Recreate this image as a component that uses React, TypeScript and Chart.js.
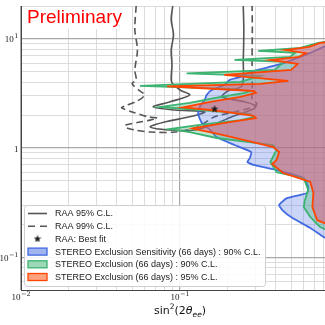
import React, { useEffect, useRef } from 'react';
import { Chart, registerables } from 'chart.js';

Chart.register(...registerables);

// ---- axis data ----
const xMin = 0.01;
const xMax = 1;
const yMin = 0.05;
const yMax = 20;
const xGridValues = [0.01, 0.02, 0.03, 0.04, 0.05, 0.06, 0.07, 0.08, 0.09, 0.1, 0.2, 0.3, 0.4, 0.5, 0.6, 0.7, 0.8, 0.9, 1];
const yGridValues = [0.05, 0.06, 0.07, 0.08, 0.09, 0.1, 0.2, 0.3, 0.4, 0.5, 0.6, 0.7, 0.8, 0.9, 1, 2, 3, 4, 5, 6, 7, 8, 9, 10, 20];
const majorValues = [0.01, 0.1, 1, 10];
const xTickValues = [0.01, 0.1, 1];
const xTickBases = ['10', '10', '10'];
const xTickExps = ['\u22122', '\u22121', '0'];
const yTickValues = [0.1, 1, 10];
const yTickBases = ['10', '1', '10'];
const yTickExps = ['\u22121', '', '1'];

const watermark = 'Preliminary';
const legendLabels = [
  'RAA 95% C.L.',
  'RAA 99% C.L.',
  'RAA: Best fit',
  'STEREO Exclusion Sensitivity (66 days) : 90% C.L.',
  'STEREO Exclusion (66 days) : 90% C.L.',
  'STEREO Exclusion (66 days) : 95% C.L.',
];

// ---- series data: [sin^2(2theta), dm^2] ----
const raaBestFit: [number, number][] = [[0.165, 2.3]];

const raa95: [number, number][] = [
  [0.09, 20], [0.088, 15], [0.091, 10.9], [0.088, 7.9], [0.089, 5.77], [0.088, 4.39], [0.089, 3.95],
  [0.1, 3.4], [0.115, 3.06], [0.086, 2.64], [0.068, 2.38], [0.093, 2.23], [0.143, 2.14], [0.115, 1.93],
  [0.08, 1.73], [0.065, 1.56], [0.086, 1.46], [0.124, 1.46], [0.165, 1.66], [0.22, 1.97], [0.29, 2.28],
  [0.3, 2.43], [0.257, 2.64], [0.184, 2.94], [0.2, 3.33], [0.245, 3.7], [0.25, 6.4], [0.252, 12.1], [0.25, 20],
];

const raa99: [number, number][] = [
  [0.053, 20], [0.052, 12.1], [0.054, 7.9], [0.052, 5.19], [0.053, 4.2], [0.05, 3.87], [0.056, 3.33],
  [0.06, 3.06], [0.054, 2.7], [0.045, 2.43], [0.043, 2.33], [0.05, 2.14], [0.063, 1.93], [0.072, 1.88],
  [0.065, 1.8], [0.056, 1.73], [0.046, 1.63], [0.045, 1.56], [0.052, 1.46], [0.065, 1.4], [0.093, 1.4],
  [0.124, 1.525], [0.143, 1.7], [0.165, 1.93], [0.22, 2.14], [0.275, 2.33], [0.305, 2.53], [0.284, 2.81],
  [0.284, 3.06], [0.285, 3.78], [0.284, 6.4], [0.285, 12.1], [0.284, 20],
];

const stereoSens90: [number, number][] = [
  [1.0, 9.0], [0.8, 8.45], [0.66, 7.44], [0.55, 6.7], [0.45, 6.0], [0.36, 5.5], [0.275, 4.97], [0.24, 4.48],
  [0.205, 4.2], [0.19, 3.78], [0.158, 3.4], [0.147, 3.06], [0.143, 2.76], [0.133, 2.38], [0.13, 2.05],
  [0.137, 1.7], [0.155, 1.46], [0.17, 1.26], [0.22, 1.065], [0.28, 0.92], [0.275, 0.81], [0.265, 0.744],
  [0.29, 0.7], [0.405, 0.628], [0.6, 0.53], [0.64, 0.44], [0.63, 0.387], [0.47, 0.347], [0.42, 0.3],
  [0.44, 0.27], [0.51, 0.228], [0.66, 0.185], [0.8, 0.153], [1.0, 0.129],
];

const stereo90: [number, number][] = [
  [1.0, 9.8], [0.74, 9.2], [0.57, 8.27], [0.31, 7.76], [0.53, 7.44], [0.49, 6.84], [0.22, 6.42], [0.45, 6.15],
  [0.395, 5.19], [0.11, 4.83], [0.32, 4.58], [0.24, 4.03], [0.056, 3.71], [0.205, 3.48], [0.275, 3.33],
  [0.257, 3.2], [0.18, 2.94], [0.115, 2.59], [0.075, 2.38], [0.133, 2.23], [0.275, 2.05], [0.29, 1.92],
  [0.24, 1.8], [0.133, 1.63], [0.086, 1.49], [0.115, 1.4], [0.17, 1.235], [0.385, 1.065], [0.405, 0.96],
  [0.37, 0.744], [0.405, 0.6], [0.6, 0.53], [0.64, 0.412], [0.61, 0.333], [0.6, 0.288], [0.66, 0.233],
  [0.76, 0.189], [1.0, 0.159],
];

const stereo95: [number, number][] = [
  [1.0, 9.6], [0.76, 9.2], [0.65, 8.45], [0.46, 7.9], [0.62, 7.4], [0.56, 6.85], [0.37, 6.4], [0.55, 5.9],
  [0.5, 5.2], [0.19, 4.67], [0.48, 4.12], [0.32, 3.87], [0.083, 3.67], [0.29, 3.33], [0.3, 3.2], [0.24, 2.94],
  [0.155, 2.64], [0.104, 2.35], [0.155, 2.23], [0.22, 2.09], [0.29, 1.97], [0.3, 1.88], [0.205, 1.73],
  [0.12, 1.51], [0.133, 1.46], [0.165, 1.37], [0.255, 1.18], [0.385, 1.02], [0.42, 0.92], [0.405, 0.776],
  [0.38, 0.713], [0.445, 0.59], [0.66, 0.488], [0.69, 0.387], [0.68, 0.288], [0.73, 0.218], [0.81, 0.205],
  [1.0, 0.193],
];

// ---- styles ----
const RAA_COLOR = '#555555';
const BLUE = '#4169e1';
const GREEN = '#3cb371';
const RED = '#ff4500';

const toPts = (arr: [number, number][]) => arr.map(([x, y]) => ({ x, y }));

function makeStar(size: number, color: string) {
  const c = document.createElement('canvas');
  c.width = size;
  c.height = size;
  const g = c.getContext('2d')!;
  g.fillStyle = color;
  g.beginPath();
  const cx = size / 2, cy = size / 2 + 0.5, R = size / 2, r = R * 0.42;
  for (let i = 0; i < 10; i++) {
    const a = -Math.PI / 2 + (i * Math.PI) / 5;
    const rad = i % 2 === 0 ? R : r;
    g.lineTo(cx + rad * Math.cos(a), cy + rad * Math.sin(a));
  }
  g.closePath();
  g.fill();
  return c;
}

function drawPow(ctx: CanvasRenderingContext2D, ax: number, baseY: number, base: string, exp: string, align: 'center' | 'right') {
  const baseFont = '9px "Liberation Serif", "DejaVu Serif", serif';
  const expFont = '6.5px "DejaVu Serif", "Liberation Serif", serif';
  ctx.font = baseFont;
  const wb = ctx.measureText(base).width;
  ctx.font = expFont;
  const we = exp ? ctx.measureText(exp).width : 0;
  const total = wb + we + (exp ? 0.5 : 0);
  const sx = align === 'center' ? ax - total / 2 : ax - total;
  ctx.textAlign = 'left';
  ctx.textBaseline = 'alphabetic';
  ctx.font = baseFont;
  ctx.fillText(base, sx, baseY);
  if (exp) {
    ctx.font = expFont;
    ctx.fillText(exp, sx + wb + 0.5, baseY - 4);
  }
}

export default function App() {
  const ref = useRef<HTMLCanvasElement>(null);

  useEffect(() => {
    const canvas = ref.current;
    if (!canvas) return;
    const star = makeStar(8, '#1a1a1a');

    const decor = {
      id: 'decor',
      beforeDatasetsDraw(chart: any) {
        const { ctx, chartArea: a } = chart;
        ctx.save();
        ctx.fillStyle = '#ffffff';
        ctx.fillRect(a.left + 1, a.top + 1, 108, 22);
        ctx.fillStyle = '#ff0000';
        ctx.font = '19px "Liberation Sans", Arial, sans-serif';
        ctx.textAlign = 'left';
        ctx.textBaseline = 'alphabetic';
        ctx.fillText(watermark, a.left + 6, a.top + 17);
        ctx.restore();
      },
      afterDraw(chart: any) {
        const { ctx, chartArea: a } = chart;
        const xs = chart.scales.x;
        const ys = chart.scales.y;
        ctx.save();
        ctx.fillStyle = '#222222';
        xTickValues.forEach((v, i) => {
          drawPow(ctx, xs.getPixelForValue(v), a.bottom + 9.5, xTickBases[i], xTickExps[i], 'center');
        });
        yTickValues.forEach((v, i) => {
          drawPow(ctx, a.left - 2.5, ys.getPixelForValue(v) + 3.5, yTickBases[i], yTickExps[i], 'right');
        });

        // axis title sin^2(2theta_ee)
        const normal = '11px "DejaVu Sans", sans-serif';
        const small = '7.5px "DejaVu Sans", sans-serif';
        const ital = 'italic 11px "DejaVu Sans", sans-serif';
        const italSmall = 'italic 7.5px "DejaVu Sans", sans-serif';
        const parts = [
          { t: 'sin', f: normal, dy: 0 },
          { t: '2', f: small, dy: -5 },
          { t: '(2', f: normal, dy: 0 },
          { t: '\u03b8', f: ital, dy: 0 },
          { t: 'ee', f: italSmall, dy: 2.5 },
          { t: ')', f: normal, dy: 0 },
        ];
        let tw = 0;
        const widths = parts.map((p) => {
          ctx.font = p.f;
          const w = ctx.measureText(p.t).width;
          tw += w;
          return w;
        });
        let tx = (a.left + a.right) / 2 - tw / 2;
        const ty = a.bottom + 24;
        ctx.fillStyle = '#111111';
        ctx.textAlign = 'left';
        ctx.textBaseline = 'alphabetic';
        parts.forEach((p, i) => {
          ctx.font = p.f;
          ctx.fillText(p.t, tx, ty + p.dy);
          tx += widths[i];
        });

        // legend
        const lx = a.left + 3;
        const ly = a.bottom - 85;
        const lw = 241;
        const lh = 81;
        ctx.beginPath();
        if ((ctx as any).roundRect) (ctx as any).roundRect(lx + 0.5, ly + 0.5, lw, lh, 3);
        else ctx.rect(lx + 0.5, ly + 0.5, lw, lh);
        ctx.fillStyle = 'rgba(255,255,255,0.88)';
        ctx.fill();
        ctx.strokeStyle = '#cfcfcf';
        ctx.lineWidth = 1;
        ctx.stroke();

        const hx0 = lx + 4;
        const hx1 = lx + 23;
        const textX = lx + 31;
        const row0 = ly + 8.5;
        const step = 12.7;
        const patchFill = ['rgba(65,105,225,0.5)', 'rgba(60,179,113,0.5)', 'rgba(255,69,0,0.5)'];
        const patchEdge = [BLUE, GREEN, RED];
        legendLabels.forEach((label, i) => {
          const ry = row0 + i * step;
          if (i === 0 || i === 1) {
            ctx.beginPath();
            ctx.setLineDash(i === 1 ? [7, 5] : []);
            ctx.strokeStyle = RAA_COLOR;
            ctx.lineWidth = 1.6;
            ctx.moveTo(hx0, ry);
            ctx.lineTo(hx1, ry);
            ctx.stroke();
            ctx.setLineDash([]);
          } else if (i === 2) {
            ctx.drawImage(star, (hx0 + hx1) / 2 - 4, ry - 4.5);
          } else {
            const k = i - 3;
            ctx.fillStyle = patchFill[k];
            ctx.fillRect(hx0, ry - 3.5, hx1 - hx0, 7);
            ctx.strokeStyle = patchEdge[k];
            ctx.lineWidth = 1.3;
            ctx.strokeRect(hx0, ry - 3.5, hx1 - hx0, 7);
          }
          ctx.fillStyle = '#222222';
          ctx.font = '9px "Liberation Sans", Arial, sans-serif';
          ctx.textAlign = 'left';
          ctx.textBaseline = 'middle';
          ctx.fillText(label, textX, ry + 0.5);
        });
        ctx.restore();
      },
    };

    const gridColor = (ctx: any) => {
      const v = ctx.tick && ctx.tick.value;
      if (majorValues.some((m) => Math.abs(m - v) < 1e-9)) return '#a8a8a8';
      return '#d8d8d8';
    };
    const gridWidth = (ctx: any) => {
      const v = ctx.tick && ctx.tick.value;
      if (majorValues.some((m) => Math.abs(m - v) < 1e-9)) return 1.2;
      return 0.9;
    };

    const chart = new Chart(canvas, {
      type: 'scatter',
      data: {
        datasets: [
          {
            label: 'best',
            data: toPts(raaBestFit),
            pointStyle: star as any,
            pointRadius: 4,
            showLine: false,
          },
          {
            label: 'stereo95',
            data: toPts(stereo95),
            showLine: true,
            borderColor: RED,
            borderWidth: 1.8,
            backgroundColor: 'rgba(240,80,120,0.48)',
            fill: 'shape',
            pointRadius: 0,
            tension: 0,
          },
          {
            label: 'stereo90',
            data: toPts(stereo90),
            showLine: true,
            borderColor: GREEN,
            borderWidth: 1.8,
            backgroundColor: 'rgba(60,179,113,0.33)',
            fill: 'shape',
            pointRadius: 0,
            tension: 0,
          },
          {
            label: 'sens90',
            data: toPts(stereoSens90),
            showLine: true,
            borderColor: BLUE,
            borderWidth: 1.8,
            backgroundColor: 'rgba(65,105,225,0.28)',
            fill: 'shape',
            pointRadius: 0,
            tension: 0.15,
          },
          {
            label: 'raa99',
            data: toPts(raa99),
            showLine: true,
            borderColor: RAA_COLOR,
            borderWidth: 1.6,
            borderDash: [7, 4],
            fill: false,
            pointRadius: 0,
            tension: 0.3,
          },
          {
            label: 'raa95',
            data: toPts(raa95),
            showLine: true,
            borderColor: RAA_COLOR,
            borderWidth: 1.6,
            fill: false,
            pointRadius: 0,
            tension: 0.3,
          },
        ] as any,
      },
      options: {
        responsive: false,
        animation: false,
        events: [],
        layout: { padding: { top: 6, right: 6, left: 0, bottom: 0 } },
        plugins: { legend: { display: false }, tooltip: { enabled: false } },
        scales: {
          x: {
            type: 'logarithmic',
            min: xMin,
            max: xMax,
            afterBuildTicks: (s: any) => {
              s.ticks = xGridValues.map((v) => ({ value: v }));
            },
            afterFit: (s: any) => {
              s.height = 35;
            },
            ticks: { display: false, autoSkip: false },
            grid: { color: gridColor, lineWidth: gridWidth, drawTicks: false },
            border: { color: '#444444', width: 1 },
          },
          y: {
            type: 'logarithmic',
            min: yMin,
            max: yMax,
            afterBuildTicks: (s: any) => {
              s.ticks = yGridValues.map((v) => ({ value: v }));
            },
            afterFit: (s: any) => {
              s.width = 21;
            },
            ticks: { display: false, autoSkip: false },
            grid: { color: gridColor, lineWidth: gridWidth, drawTicks: false },
            border: { color: '#444444', width: 1 },
          },
        },
      } as any,
      plugins: [decor],
    });

    return () => {
      chart.destroy();
    };
  }, []);

  return (
    <div style={{ position: 'fixed', left: 0, top: 0, width: 325, height: 325, overflow: 'hidden', background: '#ffffff' }}>
      <canvas ref={ref} width={345} height={325} style={{ display: 'block' }} />
    </div>
  );
}
